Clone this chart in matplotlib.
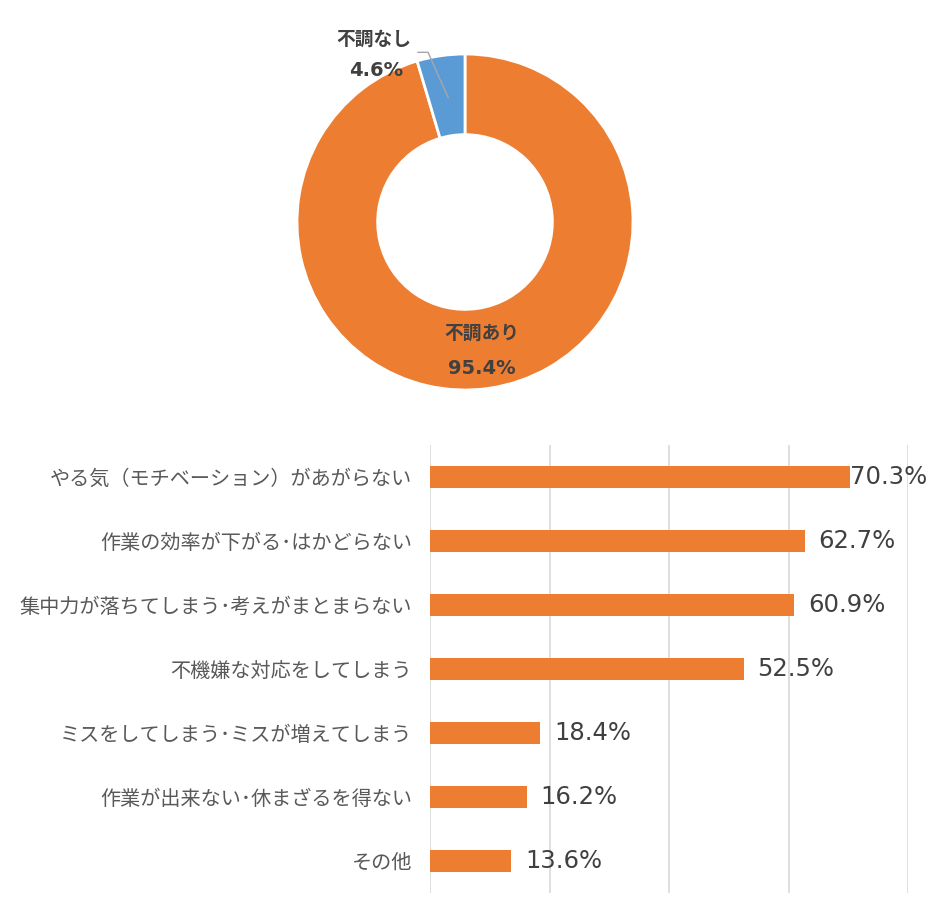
import matplotlib.pyplot as plt

plt.rcParams['font.family'] = ['Noto Sans CJK JP', 'DejaVu Sans']

# donut data
pie_labels = ["不調あり", "不調なし"]
pie_values = [95.4, 4.6]
pie_colors = ["#ED7D31", "#5B9BD5"]

# bar data (top to bottom)
categories = [
    "やる気（モチベーション）があがらない",
    "作業の効率が下がる･はかどらない",
    "集中力が落ちてしまう･考えがまとまらない",
    "不機嫌な対応をしてしまう",
    "ミスをしてしまう･ミスが増えてしまう",
    "作業が出来ない･休まざるを得ない",
    "その他",
]
values = [70.3, 62.7, 60.9, 52.5, 18.4, 16.2, 13.6]

W, H = 940, 919
fig = plt.figure(figsize=(W / 100, H / 100), dpi=100)


def px_axes(x0, y0, x1, y1):
    return fig.add_axes([x0 / W, 1 - y1 / H, (x1 - x0) / W, (y1 - y0) / H])


# --- donut ---
ax1 = px_axes(297, 54, 633, 390)
wedges, _ = ax1.pie(pie_values, colors=pie_colors, startangle=90, counterclock=False,
                    radius=1.0, wedgeprops=dict(width=0.48, edgecolor="white", linewidth=2))
ax1.set_xlim(-1, 1)
ax1.set_ylim(-1, 1)
ax1.set_aspect("equal")
ax1.axis("off")

txt = "#404040"
ax1.text(0.10, -0.66, pie_labels[0], ha="center", va="center", fontsize=13.5,
         fontweight="bold", color=txt)
ax1.text(0.10, -0.87, f"{pie_values[0]}%", ha="center", va="center", fontsize=14,
         fontweight="bold", color=txt, family="DejaVu Sans")
ax1.text(-0.54, 1.09, pie_labels[1], ha="center", va="center", fontsize=13.5,
         fontweight="bold", color=txt, clip_on=False)
ax1.text(-0.53, 0.90, f"{pie_values[1]}%", ha="center", va="center", fontsize=14,
         fontweight="bold", color=txt, family="DejaVu Sans")
# leader line
ax1.plot([-0.28, -0.22, -0.10], [1.01, 1.01, 0.74], color="#A6A6A6", lw=1, clip_on=False)

# --- bars ---
ax2 = px_axes(430, 445, 908, 893)
y = range(len(categories))
ax2.barh(y, values, height=0.33, color="#ED7D31", zorder=3)
ax2.set_xlim(0, 80)
ax2.set_ylim(len(categories) - 0.5, -0.5)
ax2.set_xticks([0, 20, 40, 60, 80])
ax2.xaxis.grid(True, color="#D9D9D9", lw=1.2)
ax2.tick_params(axis="x", length=0, labelbottom=False)
ax2.tick_params(axis="y", length=0, pad=13, labelsize=14.5, labelcolor="#595959")
ax2.set_yticks(list(y))
ax2.set_yticklabels(categories)
for s in ax2.spines.values():
    s.set_visible(False)

for i, v in enumerate(values):
    off = 0 if v > 65 else 10
    ax2.annotate(f"{v}%", (v, i), xytext=(off, 0), textcoords="offset points",
                 ha="left", va="center", fontsize=17.5, color=txt,
                 family="DejaVu Sans", zorder=4)

fig.savefig("out.png", dpi=100)
